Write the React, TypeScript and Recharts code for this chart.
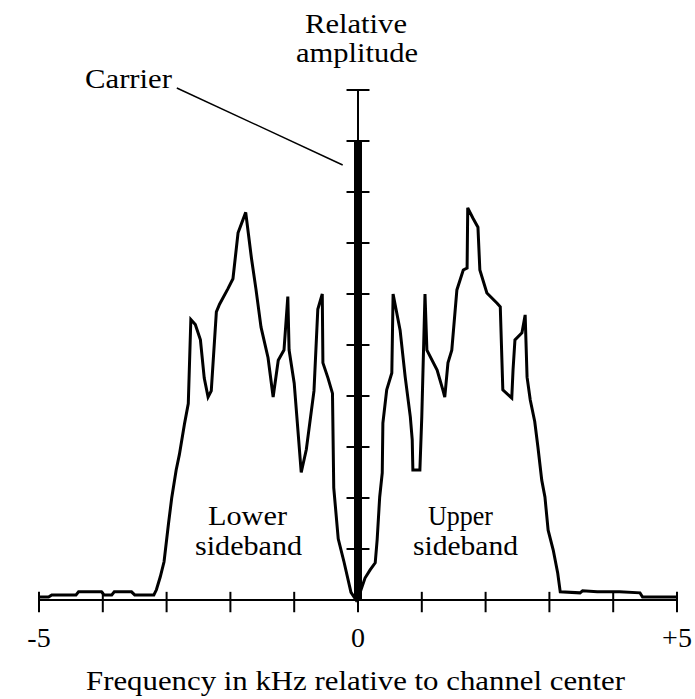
import { Line, LineChart, ReferenceLine, XAxis, YAxis } from "recharts";

// frequency offsets (kHz) and relative amplitude
const lowerFreq = [
  -5, -4.85, -4.8, -4.42, -4.38, -4.02, -3.98, -3.86, -3.82, -3.55, -3.5, -3.2, -3.16, -3.1, -3.04, -2.97,
  -2.92, -2.85, -2.8, -2.72, -2.66, -2.62, -2.55, -2.47, -2.41, -2.35, -2.3, -2.22, -2.17, -2.04, -1.96,
  -1.88, -1.76, -1.72, -1.67, -1.6, -1.52, -1.41, -1.33, -1.25, -1.16, -1.1, -1.08, -1.0, -0.94, -0.89,
  -0.81, -0.69, -0.63, -0.56, -0.55, -0.47, -0.4, -0.38, -0.31, -0.22, -0.11, -0.03
];
const lowerAmp = [
  0.06, 0.06, 0.1, 0.1, 0.16, 0.16, 0.1, 0.1, 0.16, 0.16, 0.1, 0.1, 0.2, 0.45, 0.75, 1.5, 2.0, 2.55, 2.85,
  3.45, 3.85, 5.5, 5.4, 5.1, 4.35, 3.98, 4.1, 5.65, 5.8, 6.1, 6.3, 7.2, 7.6, 7.2, 6.7, 6.1, 5.35, 4.75,
  3.98, 4.7, 4.9, 5.95, 4.9, 4.25, 3.3, 2.5, 2.95, 4.1, 5.7, 6.0, 4.65, 4.35, 4.05, 2.2, 1.2, 0.75, 0.15, 0
];
const upperFreq = [
  0.02, 0.11, 0.19, 0.27, 0.3, 0.34, 0.38, 0.39, 0.45, 0.53, 0.55, 0.66, 0.74, 0.82, 0.85, 0.86, 0.97, 1.0,
  1.05, 1.08, 1.24, 1.33, 1.36, 1.41, 1.47, 1.55, 1.65, 1.71, 1.72, 1.8, 1.88, 1.91, 2.02, 2.18, 2.23,
  2.27, 2.41, 2.43, 2.46, 2.57, 2.62, 2.65, 2.7, 2.77, 2.82, 2.88, 2.93, 2.98, 3.06, 3.13, 3.17, 3.48,
  3.52, 3.75, 4.1, 4.42, 4.46, 5
];
const upperAmp = [
  0.1, 0.43, 0.59, 0.73, 1.18, 2.02, 2.49, 3.47, 4.12, 4.45, 6.0, 5.29, 4.37, 3.59, 3.14, 2.55, 2.55, 3.6,
  6.0, 4.9, 4.51, 4.12, 3.98, 4.65, 4.9, 6.08, 6.47, 6.51, 7.69, 7.49, 7.31, 6.47, 6.02, 5.82, 5.75, 4.12,
  3.96, 4.51, 5.1, 5.24, 5.59, 4.37, 3.92, 3.5, 3.0, 2.35, 2.02, 1.37, 0.98, 0.53, 0.16, 0.14, 0.18, 0.16,
  0.16, 0.14, 0.06, 0.06
];
const carrierAmp = 9;

const xTicks = [-5, -4, -3, -2, -1, 0, 1, 2, 3, 4, 5];
const xTickLabels: Record<number, string> = { [-5]: "-5", 0: "0", 5: "+5" };
const yTicks = [1, 2, 3, 4, 5, 6, 7, 8, 9, 10];

const data = [
  ...lowerFreq.map((freq, i) => ({ freq, amp: lowerAmp[i] })),
  ...upperFreq.map((freq, i) => ({ freq, amp: upperAmp[i] }))
];

const font = "'Liberation Serif', 'Times New Roman', serif";

function Label({ x, y, w, children }: { x: number; y: number; w: number; children: string }) {
  return (
    <text
      x={x}
      y={y}
      textLength={w}
      lengthAdjust="spacingAndGlyphs"
      fontFamily={font}
      fontSize={28}
      fill="#000"
    >
      {children}
    </text>
  );
}

export default function App() {
  return (
    <div style={{ position: "absolute", left: 0, top: 0, width: 695, height: 699, background: "#fff" }}>
      <LineChart width={695} height={699} data={data} margin={{ top: 90, right: 18, bottom: 59, left: 39 }}>
        <XAxis
          dataKey="freq"
          type="number"
          domain={[-5, 5]}
          ticks={xTicks}
          height={40}
          tickLine={false}
          tickMargin={21}
          axisLine={{ stroke: "#000", strokeWidth: 2 }}
          tickFormatter={(v: number) => xTickLabels[v] ?? ""}
          tick={{ fontSize: 28, fontFamily: font, fill: "#000" }}
        />
        <YAxis type="number" domain={[0, 10]} hide />
        {xTicks.map((t) => (
          <ReferenceLine
            key={"xt" + t}
            segment={[{ x: t, y: -0.24 }, { x: t, y: 0.16 }]}
            stroke="#000"
            strokeWidth={2}
            ifOverflow="visible"
          />
        ))}
        <ReferenceLine segment={[{ x: 0, y: 0 }, { x: 0, y: 10 }]} stroke="#000" strokeWidth={2} ifOverflow="visible" />
        {yTicks.map((t) => (
          <ReferenceLine
            key={"yt" + t}
            segment={[{ x: -0.18, y: t }, { x: 0.18, y: t }]}
            stroke="#000"
            strokeWidth={2}
            ifOverflow="visible"
          />
        ))}
        <ReferenceLine
          segment={[{ x: 0, y: 0 }, { x: 0, y: carrierAmp }]}
          stroke="#000"
          strokeWidth={8}
          ifOverflow="visible"
        />
        <ReferenceLine
          segment={[{ x: -2.84, y: 10.04 }, { x: -0.24, y: 8.53 }]}
          stroke="#000"
          strokeWidth={1.5}
          ifOverflow="visible"
        />
        <Line
          type="linear"
          dataKey="amp"
          stroke="#000"
          strokeWidth={3}
          dot={false}
          isAnimationActive={false}
        />
      </LineChart>
      <svg width={695} height={699} style={{ position: "absolute", left: 0, top: 0, pointerEvents: "none" }}>
        <Label x={305} y={33} w={102}>Relative</Label>
        <Label x={296} y={62} w={122}>amplitude</Label>
        <Label x={85} y={88} w={87}>Carrier</Label>
        <Label x={208} y={525} w={79}>Lower</Label>
        <Label x={195} y={555} w={107}>sideband</Label>
        <Label x={428} y={525} w={65}>Upper</Label>
        <Label x={413} y={555} w={105}>sideband</Label>
        <Label x={86} y={690} w={539}>Frequency in kHz relative to channel center</Label>
      </svg>
    </div>
  );
}
